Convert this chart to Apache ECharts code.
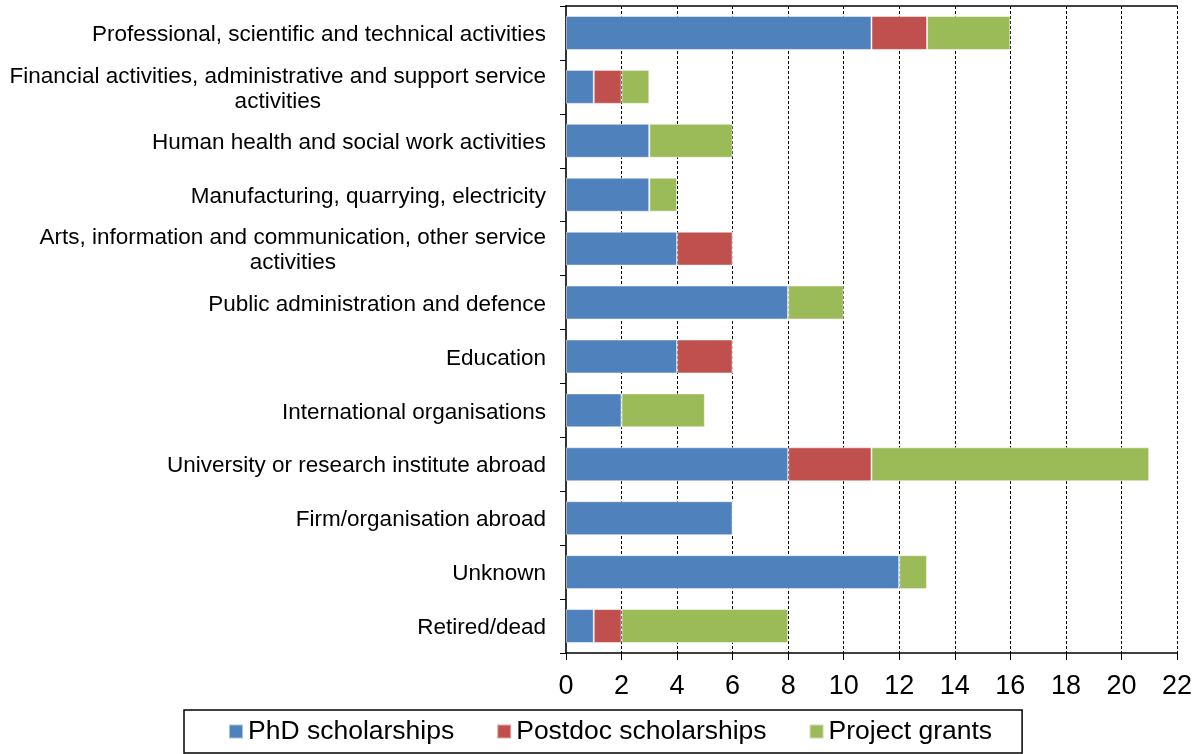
<!DOCTYPE html>
<html>
<head>
<meta charset="utf-8">
<script src="https://cdn.jsdelivr.net/npm/echarts@6/dist/echarts.min.js"></script>
<style>
  html, body { margin: 0; padding: 0; background: #fff; }
  #chart { width: 1195px; height: 754px; }
</style>
</head>
<body>
<div id="chart"></div>
<script>
var categories = [
  'Professional, scientific and technical activities',
  'Financial activities, administrative and support service\nactivities',
  'Human health and social work activities',
  'Manufacturing, quarrying, electricity',
  'Arts, information and communication, other service\nactivities',
  'Public administration and defence',
  'Education',
  'International organisations',
  'University or research institute abroad',
  'Firm/organisation abroad',
  'Unknown',
  'Retired/dead'
];
var phd = [11, 1, 3, 3, 4, 8, 4, 2, 8, 6, 12, 1];
var postdoc = [2, 1, 0, 0, 2, 0, 2, 0, 3, 0, 0, 1];
var grants = [3, 1, 3, 1, 0, 2, 0, 3, 10, 0, 1, 6];

var font = 'Liberation Sans, Arial, sans-serif';

var chart = echarts.init(document.getElementById('chart'));

function bar(name, data, color) {
  return {
    name: name,
    type: 'bar',
    stack: 'total',
    data: data,
    barWidth: '63%',
    itemStyle: { color: color, borderColor: 'rgba(255,255,255,0.5)', borderWidth: 1 },
    emphasis: { disabled: true }
  };
}

chart.setOption({
  animation: false,
  grid: { left: 566, right: 11, top: 6, bottom: 101, containLabel: false },
  legend: {
    bottom: 1,
    left: 184,
    icon: 'rect',
    itemWidth: 14,
    itemHeight: 14,
    itemGap: 42,
    padding: [8, 30, 8, 44],
    borderColor: '#000',
    borderWidth: 1.5,
    textStyle: { fontFamily: font, fontSize: 26.5, color: '#000' },
    data: ['PhD scholarships', 'Postdoc scholarships', 'Project grants']
  },
  xAxis: [{
    type: 'value',
    min: 0,
    max: 22,
    interval: 2,
    axisLine: { show: true, lineStyle: { color: '#000', width: 1.5 } },
    axisTick: { show: true, length: 7, lineStyle: { color: '#000' } },
    axisLabel: { fontFamily: font, fontSize: 27, color: '#000', margin: 20 },
    splitLine: { show: true, lineStyle: { color: '#000', type: [3, 2], width: 1 } }
  }, {
    type: 'value',
    position: 'top',
    min: 0,
    max: 22,
    axisLine: { show: true, lineStyle: { color: '#000', width: 1.5 } },
    axisTick: { show: false },
    axisLabel: { show: false },
    splitLine: { show: false }
  }],
  yAxis: {
    type: 'category',
    inverse: true,
    data: categories,
    axisLine: { show: true, lineStyle: { color: '#333', width: 2 } },
    axisTick: { show: true, length: 6, lineStyle: { color: '#000' } },
    axisLabel: {
      fontFamily: font,
      fontSize: 22.5,
      color: '#000',
      margin: 20,
      lineHeight: 25,
      padding: [4, 0, 0, 0],
      formatter: function (v) {
        return v.split('\n').map(function (s) { return '{c|' + s + '}'; }).join('\n');
      },
      rich: { c: { align: 'center', fontFamily: font, fontSize: 22.5, color: '#000', lineHeight: 25 } }
    }
  },
  series: [
    bar('PhD scholarships', phd, '#4F81BD'),
    bar('Postdoc scholarships', postdoc, '#C0504D'),
    bar('Project grants', grants, '#9BBB59')
  ]
});
</script>
</body>
</html>
